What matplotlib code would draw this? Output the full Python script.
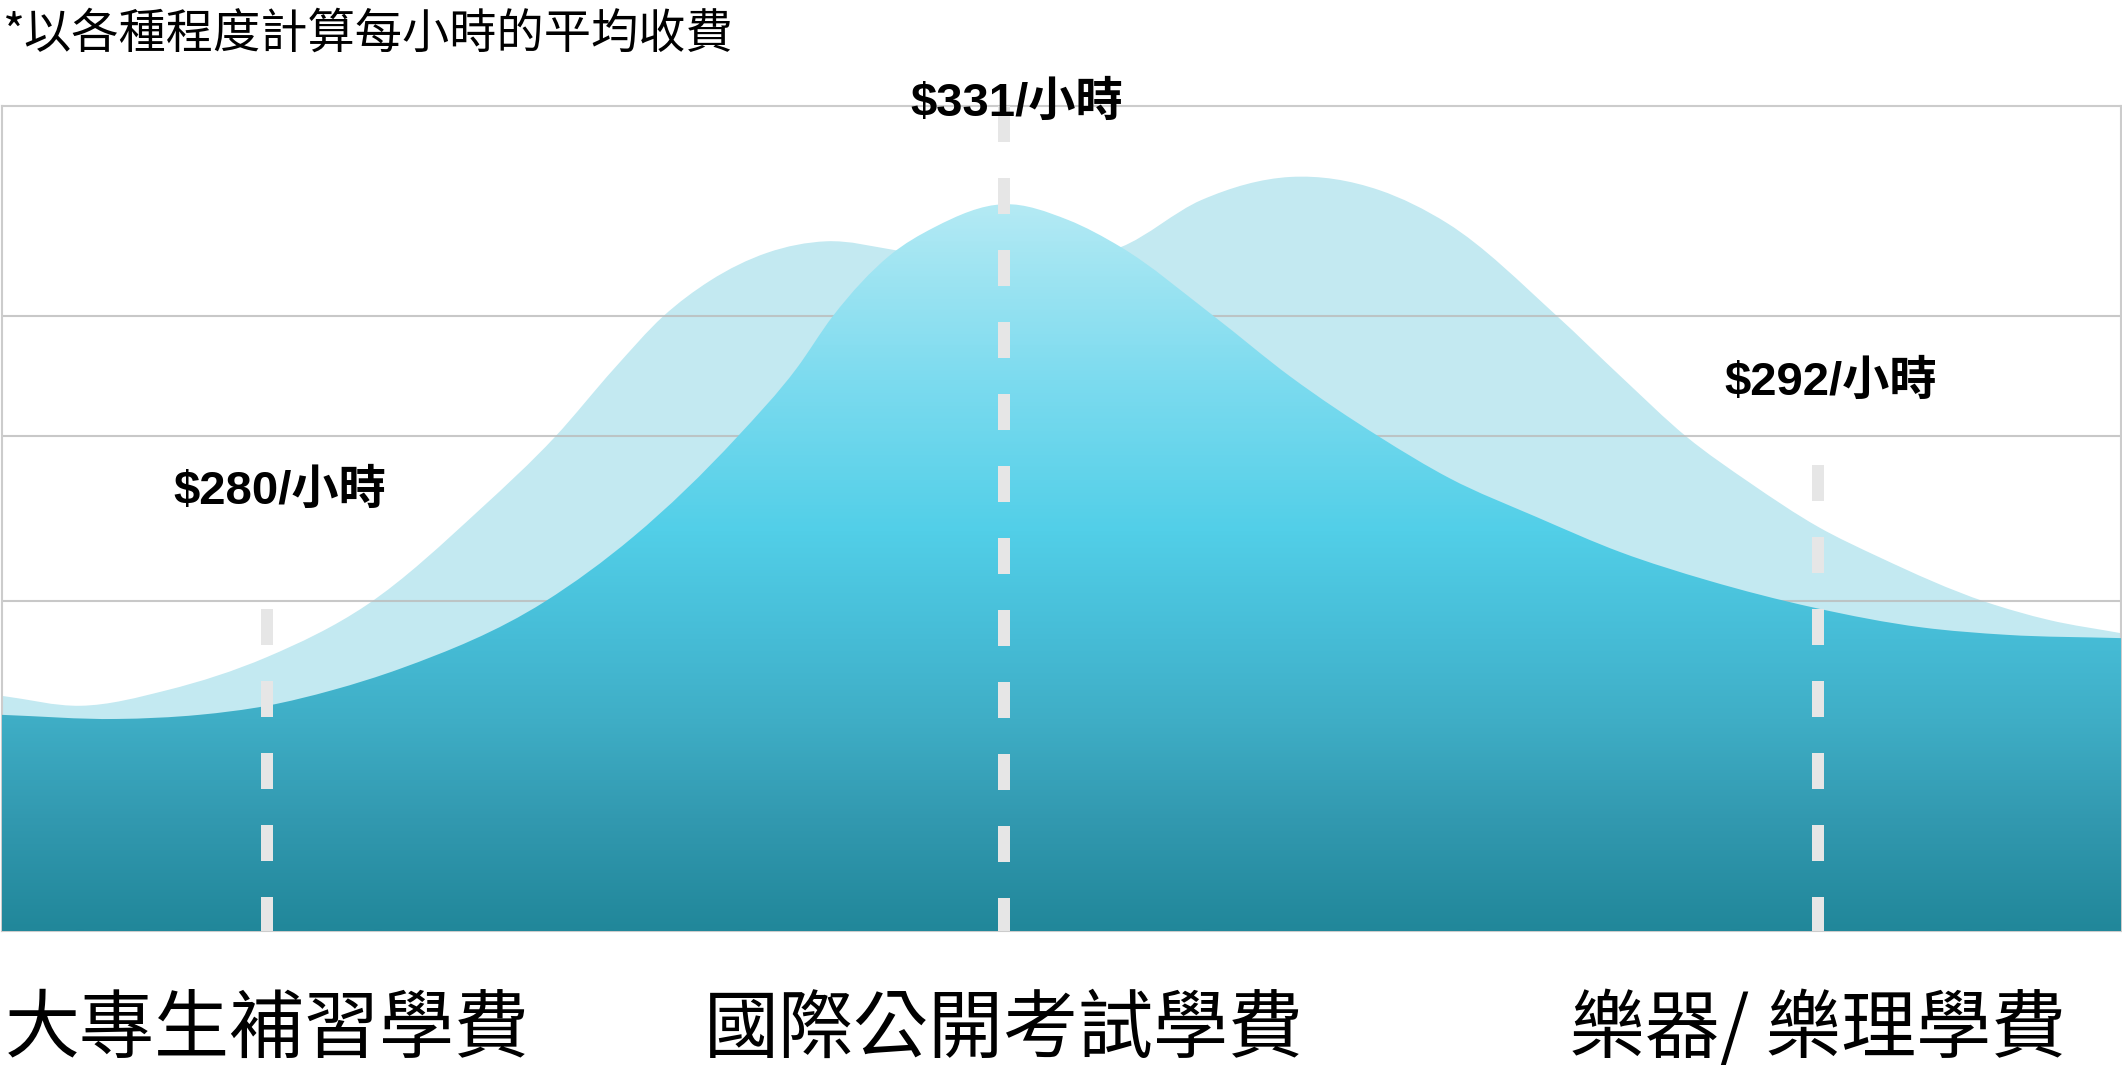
import numpy as np
import matplotlib
matplotlib.use('Agg')
import matplotlib.pyplot as plt
from matplotlib.path import Path
from matplotlib.patches import PathPatch
from matplotlib.colors import LinearSegmentedColormap
from matplotlib.transforms import blended_transform_factory

# categories and their averaged hourly fees
categories = ['大專生補習學費', '國際公開考試學費', '樂器/ 樂理學費']
cat_x = [12.5, 47.3, 85.7]
fee_labels = ['$280/小時', '$331/小時', '$292/小時']
marker_top = [39.0, 100.0, 56.5]
label_y = [53.2, 100.3, 66.4]

# front (gradient) wave
front_x = [0, 5.4, 9.3, 12.5, 15.6, 18.8, 25.6, 29.8, 34.7, 37.5, 39.2,
           41.9, 44.0, 47.3, 50.3, 52.8, 57.2, 60.8, 65.0, 68.3, 72.4, 76.4,
           80.5, 85.5, 90.6, 94.6, 100]
front_y = [26.2, 25.7, 26.2, 27.3, 29.2, 31.8, 39.9, 47.8, 59.9, 68.2, 74.5,
           81.9, 85.3, 88.1, 86.2, 82.9, 74.5, 67.2, 59.9, 54.9, 50.2, 45.9,
           42.5, 39.2, 36.8, 35.9, 35.5]

# back (pale) wave
back_x = [0, 3.7, 7.8, 12.5, 17.2, 22.6, 26.1, 28.9, 31.2, 33.4, 36.1, 38.9,
          42.2, 45.2, 47.3, 49.9, 52.8, 56.6, 60.8, 65.0, 68.2, 73.4,
          76.4, 79.5, 82.5, 85.7, 88.6, 93.6, 96.6, 100]
back_y = [28.5, 27.3, 29.2, 33.2, 39.5, 51.2, 59.9, 68.2, 74.5, 78.8, 82.2, 83.6,
          82.5, 81.1, 80.4, 81.1, 82.9, 88.6, 91.4, 89.8, 85.8, 74.5,
          67.2, 59.9, 54.3, 49.0, 45.3, 39.9, 37.7, 36.1]

grid_y = [40, 60, 74.5]

title = '*以各種程度計算每小時的平均收費'


def area_path(xs, ys):
    # cubic hermite (as bezier) through the read points, closed down to y=0
    x = np.asarray(xs, float)
    y = np.asarray(ys, float)
    m = np.gradient(y, x)
    verts = [(x[0], 0), (x[0], y[0])]
    codes = [Path.MOVETO, Path.LINETO]
    for i in range(len(x) - 1):
        h = x[i + 1] - x[i]
        verts += [(x[i] + h / 3, y[i] + m[i] * h / 3),
                  (x[i + 1] - h / 3, y[i + 1] - m[i + 1] * h / 3),
                  (x[i + 1], y[i + 1])]
        codes += [Path.CURVE4] * 3
    verts += [(x[-1], 0), (x[0], 0)]
    codes += [Path.LINETO, Path.CLOSEPOLY]
    return Path(verts, codes)


fig = plt.figure(figsize=(21.22, 10.77), dpi=100)
ax = fig.add_axes([2 / 2122, 146 / 1077, 2119 / 2122, 825 / 1077])
ax.set_xlim(0, 100)
ax.set_ylim(0, 100)
ax.set_xticks([])
ax.set_yticks([])
for s in ax.spines.values():
    s.set_color('#CCCCCC')
    s.set_linewidth(1.5)

# pale wave behind
ax.add_patch(PathPatch(area_path(back_x, back_y), facecolor='#C3E9F1',
                       edgecolor='none', zorder=1))

for g in grid_y:
    ax.axhline(g, color='#BBBBBB', lw=1.5, alpha=0.8, zorder=2)

# gradient wave in front
front = PathPatch(area_path(front_x, front_y), facecolor='none',
                  edgecolor='none', zorder=3)
ax.add_patch(front)
cmap = LinearSegmentedColormap.from_list('wave', [
    (0.0, '#21879A'), (0.135, '#3299B0'), (0.256, '#3FAEC6'),
    (0.353, '#46BCD6'), (0.486, '#52CFE8'), (0.668, '#7CDBEF'),
    (0.881, '#B4EAF4'), (1.0, '#B8ECF5')])
grad = np.linspace(0, 1, 512).reshape(-1, 1)
im = ax.imshow(grad, cmap=cmap, origin='lower', extent=[0, 100, 0, 100],
               aspect='auto', zorder=3, interpolation='bilinear')
im.set_clip_path(front)

# dashed markers
for x, top in zip(cat_x, marker_top):
    ax.plot([x, x], [top, 0], color='#E6E6E6', lw=8.64,
            linestyle=(0, (3, 3)), dash_capstyle='butt', zorder=4,
            clip_on=False)

fam_bold = ['Liberation Sans', 'Noto Sans CJK TC']
for x, y, t in zip(cat_x, label_y, fee_labels):
    ax.text(x + 0.6, y, t, ha='center', va='center', fontsize=34,
            fontweight='bold', family=fam_bold, zorder=5)

trans = blended_transform_factory(ax.transData, ax.transAxes)
for x, t in zip(cat_x, categories):
    ax.text(x, -0.121, t, transform=trans, ha='center', va='center',
            fontsize=54, family=['Noto Sans CJK TC', 'DejaVu Sans'])

fig.text(3 / 2122, 1 - 34 / 1077, title, ha='left', va='center', fontsize=34,
         family=['Noto Sans CJK TC', 'DejaVu Sans'])

fig.savefig('out.png', dpi=100)
